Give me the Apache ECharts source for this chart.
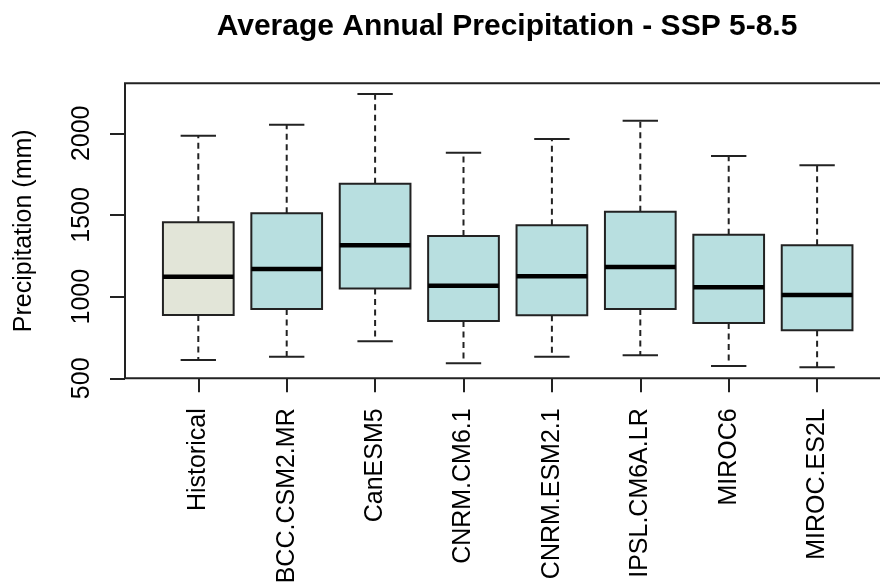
<!DOCTYPE html>
<html>
<head>
<meta charset="utf-8">
<script src="https://cdn.jsdelivr.net/npm/echarts@6/dist/echarts.min.js"></script>
<style>
  html, body { margin: 0; padding: 0; background: #fff; }
  #chart { width: 880px; height: 582px; }
</style>
</head>
<body>
<div id="chart"></div>
<script>
// box stats (mm)
var categories = ['Historical', 'BCC.CSM2.MR', 'CanESM5', 'CNRM.CM6.1', 'CNRM.ESM2.1', 'IPSL.CM6A.LR', 'MIROC6', 'MIROC.ES2L']
var whiskerLow = [612, 632, 727, 592, 632, 641, 575, 567]
var q1 = [888, 924, 1049, 851, 886, 924, 839, 794]
var median = [1122, 1169, 1314, 1067, 1125, 1181, 1057, 1010]
var q3 = [1455, 1510, 1691, 1371, 1437, 1520, 1379, 1314]
var whiskerHigh = [1985, 2053, 2241, 1881, 1965, 2077, 1861, 1804]
var yTicks = [500, 1000, 1500, 2000]

var font = 'Liberation Sans, Arial, sans-serif'
var ink = '#222'

var rows = categories.map(function (c, i) {
  return [i, whiskerLow[i], q1[i], median[i], q3[i], whiskerHigh[i]]
})

function renderBox(params, api) {
  var x = api.value(0)
  var pLo = api.coord([x, api.value(1)])
  var pQ1 = api.coord([x, api.value(2)])
  var pMd = api.coord([x, api.value(3)])
  var pQ3 = api.coord([x, api.value(4)])
  var pHi = api.coord([x, api.value(5)])
  var band = api.size([1, 0])[0]
  var half = band * 0.4
  var cap = band * 0.2
  var cx = pMd[0]
  var fill = categories[x] === 'Historical' ? '#e2e5d8' : '#b8dfe0'
  var dashed = { stroke: ink, lineWidth: 2, lineDash: [6, 4.5] }
  var solid = { stroke: ink, lineWidth: 2 }
  return {
    type: 'group',
    children: [
      { type: 'line', shape: { x1: cx, y1: pQ3[1], x2: cx, y2: pHi[1] }, style: dashed },
      { type: 'line', shape: { x1: cx, y1: pQ1[1], x2: cx, y2: pLo[1] }, style: dashed },
      { type: 'line', shape: { x1: cx - cap, y1: pHi[1], x2: cx + cap, y2: pHi[1] }, style: solid },
      { type: 'line', shape: { x1: cx - cap, y1: pLo[1], x2: cx + cap, y2: pLo[1] }, style: solid },
      { type: 'rect', shape: { x: cx - half, y: pQ3[1], width: half * 2, height: pQ1[1] - pQ3[1] },
        style: { fill: fill, stroke: ink, lineWidth: 2 } },
      { type: 'line', shape: { x1: cx - half, y1: pMd[1], x2: cx + half, y2: pMd[1] },
        style: { stroke: '#000', lineWidth: 4.5 } }
    ]
  }
}

var chart = echarts.init(document.getElementById('chart'))
chart.setOption({
  animation: false,
  backgroundColor: '#fff',
  title: {
    text: 'Average Annual Precipitation - SSP 5-8.5',
    left: 502,
    top: 7,
    textAlign: 'center',
    textStyle: { fontFamily: font, fontSize: 30, fontWeight: 'bold', color: '#000' }
  },
  grid: [
    // frame (plot box) with the y axis
    { left: 125, right: -10, top: 83.3, bottom: 203.7, containLabel: false, outerBoundsMode: 'none',
      show: true, borderColor: ink, borderWidth: 2, backgroundColor: 'transparent' },
    // data area: 8 bands
    { left: 154.1, right: 18.7, top: 83.3, bottom: 203.7, containLabel: false, outerBoundsMode: 'none' }
  ],
  xAxis: [
    { gridIndex: 0, type: 'value', show: false, min: 0, max: 1 },
    {
      gridIndex: 1,
      type: 'category',
      data: categories,
      axisLine: { show: false },
      axisTick: { show: true, alignWithLabel: true, length: 14, lineStyle: { color: ink, width: 2 } },
      axisLabel: { rotate: 90, margin: 30, interval: 0, fontFamily: font, fontSize: 25, color: '#000' }
    }
  ],
  yAxis: [
    {
      gridIndex: 0,
      type: 'value',
      min: 500,
      max: 2306,
      interval: 500,
      name: 'Precipitation (mm)',
      nameLocation: 'middle',
      nameRotate: 90,
      nameGap: 88,
      nameTextStyle: { fontFamily: font, fontSize: 25, color: '#000' },
      axisLine: { show: false },
      splitLine: { show: false },
      axisTick: { show: true, length: 15, customValues: yTicks, lineStyle: { color: ink, width: 2 } },
      axisLabel: {
        rotate: 90, margin: 30, customValues: yTicks,
        formatter: function (v) { return String(v) },
        fontFamily: font, fontSize: 25, color: '#000'
      }
    },
    { gridIndex: 1, type: 'value', min: 500, max: 2306, show: false }
  ],
  series: [{
    type: 'custom',
    xAxisIndex: 1,
    yAxisIndex: 1,
    renderItem: renderBox,
    encode: { x: 0, y: [1, 2, 3, 4, 5] },
    data: rows
  }]
})
</script>
</body>
</html>
